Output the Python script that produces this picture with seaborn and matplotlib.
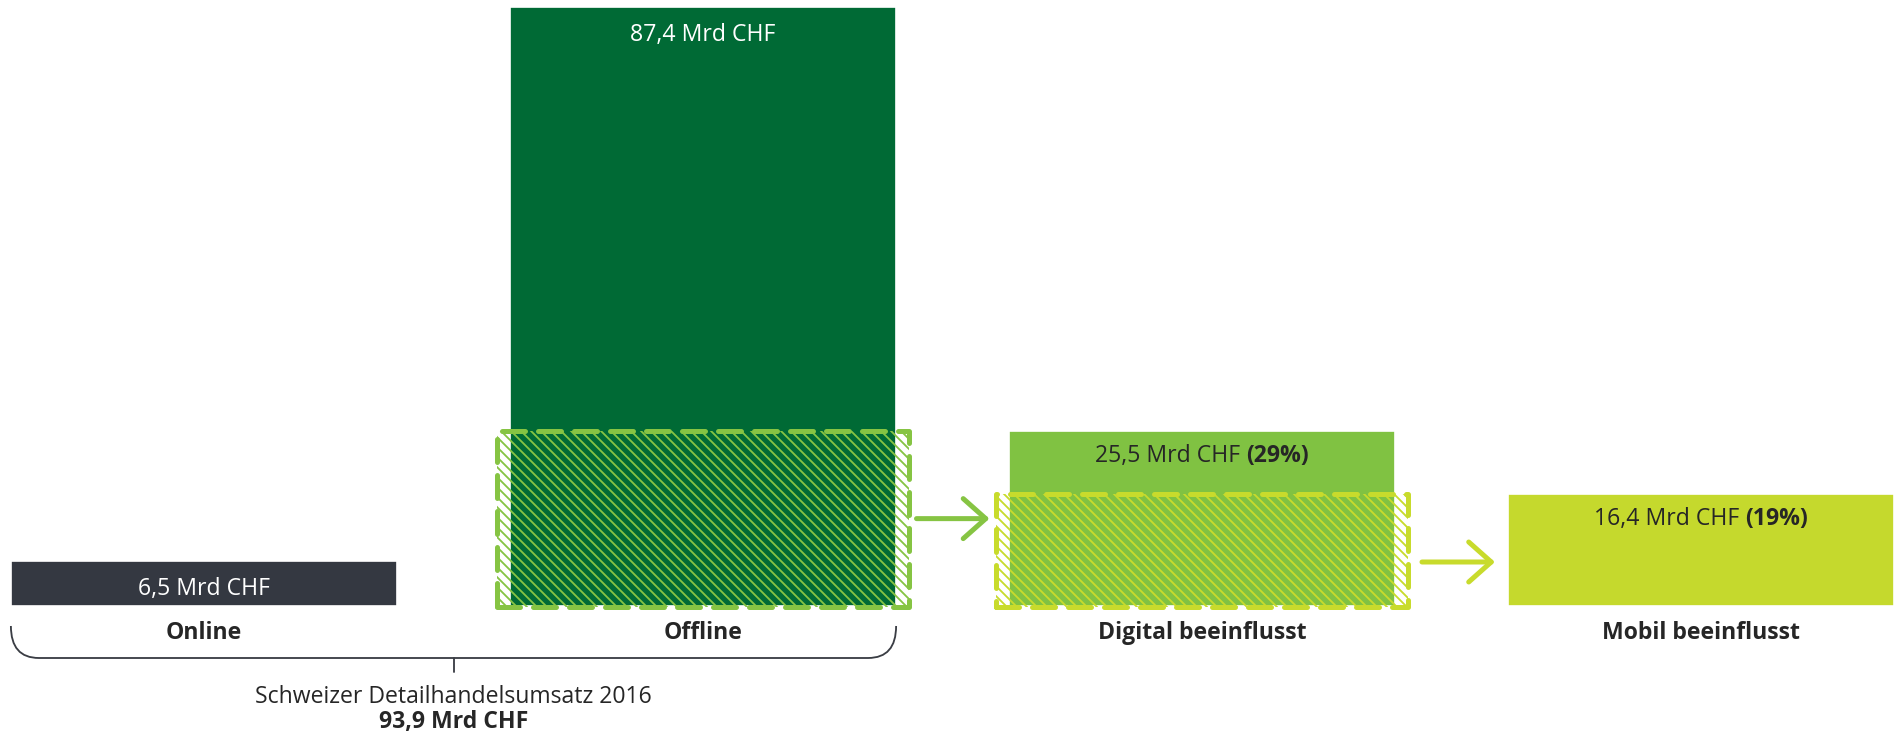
import numpy as np
import pandas as pd
import matplotlib
matplotlib.use("Agg")
import matplotlib.pyplot as plt
import seaborn as sns
from matplotlib.patches import Rectangle, PathPatch
from matplotlib.path import Path
from matplotlib.transforms import offset_copy

# data
categories = ["Online", "Offline", "Digital beeinflusst", "Mobil beeinflusst"]
values = [6.5, 87.4, 25.5, 16.4]
value_labels = ["6,5 Mrd CHF", "87,4 Mrd CHF", "25,5 Mrd CHF", "16,4 Mrd CHF"]
share_labels = ["", "", "(29%)", "(19%)"]
subtitle = "Schweizer Detailhandelsumsatz 2016"
total_label = "93,9 Mrd CHF"

bar_colors = ["#343841", "#006A35", "#80C242", "#C5D92D"]
label_colors = ["white", "white", "#262626", "#262626"]
accent_colors = {1: "#86C443", 2: "#C8DB2C"}   # dashed box + hatch + arrow
text_dark = "#262626"

sns.set_style("white")
plt.rcParams["font.family"] = ["Open Sans", "DejaVu Sans"]
plt.rcParams["hatch.linewidth"] = 1.1

DPI = 120
fig = plt.figure(figsize=(1900 / DPI, 736 / DPI), dpi=DPI)
ax = fig.add_axes([0, 0, 1, 1])

df = pd.DataFrame({"cat": categories, "val": values})
bar_w = 0.774
sns.barplot(data=df, x="cat", y="val", hue="cat", palette=bar_colors,
            width=bar_w, saturation=1, legend=False, ax=ax)

# pixel scale of the axes
px_x = 499.0          # pixels per category step
px_y = 6.853          # pixels per Mrd CHF
ax.set_xlim(-204 / px_x, (1900 - 204) / px_x)
ax.set_ylim(-130 / px_y, 606 / px_y)
ax.axis("off")

fs = 13.8

# value labels inside bars
renderer = fig.canvas.get_renderer()
for i, (v, lab, share) in enumerate(zip(values, value_labels, share_labels)):
    y = v - (28 if label_colors[i] == "white" else 25) / px_y
    if not share:
        ax.text(i, y, lab, ha="center", va="center", fontsize=fs,
                color=label_colors[i])
        continue
    t1 = ax.text(i, y, lab + " ", ha="left", va="center", fontsize=fs,
                 color=label_colors[i])
    t2 = ax.text(i, y, share, ha="left", va="center", fontsize=fs,
                 color=label_colors[i], weight="bold")
    w1 = t1.get_window_extent(renderer).width
    w2 = t2.get_window_extent(renderer).width
    t1.set_transform(offset_copy(ax.transData, fig, x=-(w1 + w2) / 2, y=0, units="dots"))
    t2.set_transform(offset_copy(ax.transData, fig, x=-(w1 + w2) / 2 + w1, y=0, units="dots"))

# category labels
for i, c in enumerate(categories):
    ax.text(i, -27 / px_y, c, ha="center", va="center", fontsize=fs,
            weight="bold", color=text_dark)

# hatched dashed boxes: share of the bar that flows into the next one
pad = 13 / px_x
for i, col in accent_colors.items():
    x0 = i - bar_w / 2 - pad
    h = values[i + 1]
    ax.add_patch(Rectangle((x0, -1 / px_y), bar_w + 2 * pad, h + 1 / px_y,
                           facecolor="none", edgecolor=col, hatch="\\\\\\\\",
                           linewidth=0, zorder=3))
    ax.add_patch(Rectangle((x0, -1 / px_y), bar_w + 2 * pad, h + 1 / px_y,
                           fill=False, edgecolor=col, linewidth=3.0,
                           linestyle=(0, (4.6, 2.6)), capstyle="round",
                           joinstyle="round", zorder=4))

# arrows between the boxes
arrow_y = {1: values[2] / 2, 2: 44 / px_y}
for i, col in accent_colors.items():
    xm = i + 0.5 + (0.013 if i == 2 else 0)
    ax.annotate("", xy=(xm + 37 / px_x, arrow_y[i]), xytext=(xm - 36 / px_x, arrow_y[i]),
                arrowprops=dict(arrowstyle="->,head_length=1.35,head_width=1.2",
                                color=col, lw=3.0, shrinkA=0, shrinkB=0,
                                capstyle="round", joinstyle="round",
                                mutation_scale=10))

# brace under Online + Offline
left = 0 - bar_w / 2
right = 1 + bar_w / 2
top = -20 / px_y
bot = -52 / px_y
rx = 28 / px_x
verts = [(left, top), (left, bot), (left + rx, bot),
         (right - rx, bot), (right, bot), (right, top)]
codes = [Path.MOVETO, Path.CURVE3, Path.CURVE3, Path.LINETO, Path.CURVE3, Path.CURVE3]
ax.add_patch(PathPatch(Path(verts, codes), fill=False, edgecolor="#3a3d44", lw=1.1))
mid = (left + right) / 2
ax.plot([mid, mid], [bot, -66 / px_y], color="#3a3d44", lw=1.1)

ax.text(mid, -91 / px_y, subtitle, ha="center", va="center", fontsize=fs, color=text_dark)
ax.text(mid, -116 / px_y, total_label, ha="center", va="center", fontsize=fs,
        weight="bold", color=text_dark)

fig.savefig("out.png", dpi=DPI)
